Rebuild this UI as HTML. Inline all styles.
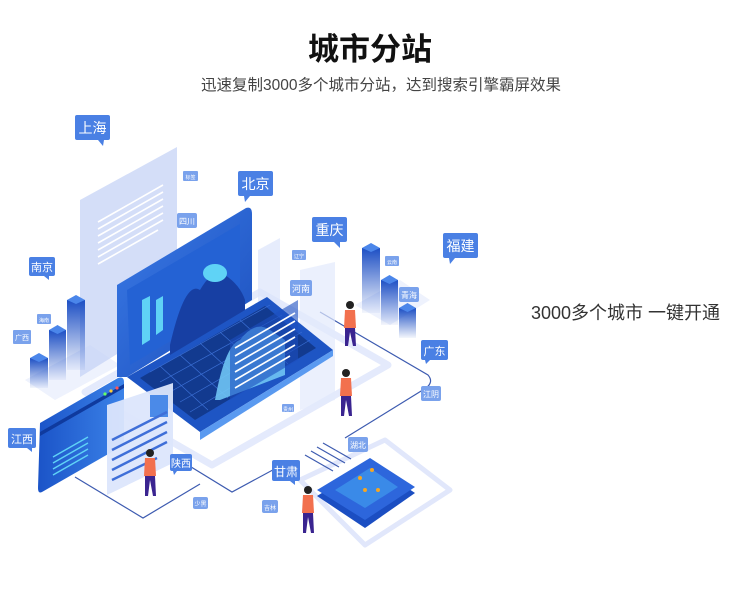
<!DOCTYPE html>
<html><head><meta charset="utf-8"><style>
html,body{margin:0;padding:0;background:#fff;}
body{width:750px;height:598px;position:relative;overflow:hidden;font-family:"Liberation Sans","Noto Sans CJK SC",sans-serif;}
.t{position:absolute;left:0;width:750px;text-align:center;}
</style></head><body>
<div class="t" style="top:24px;font-size:31px;font-weight:bold;color:#111;left:-5px;">城市分站</div>
<div class="t" style="top:73px;font-size:15.5px;color:#444;left:6px;">迅速复制3000多个城市分站，达到搜索引擎霸屏效果</div>
<div style="position:absolute;left:531px;top:299px;font-size:18px;color:#333;white-space:nowrap;">3000多个城市 一键开通</div>
<svg width="750" height="598" style="position:absolute;left:0;top:0" xmlns="http://www.w3.org/2000/svg" font-family="Liberation Sans,Noto Sans CJK SC,sans-serif">
<defs>
<linearGradient id="bar" x1="0" y1="0" x2="0" y2="1"><stop offset="0" stop-color="#1d4fc4"/><stop offset="1" stop-color="#1d4fc4" stop-opacity="0.05"/></linearGradient>
<linearGradient id="scr" x1="0" y1="0" x2="1" y2="1"><stop offset="0" stop-color="#3a7ae6"/><stop offset="1" stop-color="#1c4fbd"/></linearGradient>
<linearGradient id="side" x1="0" y1="0" x2="1" y2="0"><stop offset="0" stop-color="#1b54c8"/><stop offset="1" stop-color="#3b82e8"/></linearGradient>
</defs>
<path d="M85,392 L260,292 L388,365 L212,465 Z" fill="#fff" stroke="#e4eafc" stroke-width="7" stroke-linejoin="round"/>
<path d="M300,480 L385,440 L450,490 L365,545 Z" fill="#fff" stroke="#e1e7fb" stroke-width="5" stroke-linejoin="round"/>
<path d="M25,380 L90,345 L120,365 L55,400 Z" fill="#eef2fd"/>
<path d="M355,305 L400,280 L430,300 L390,325 Z" fill="#eef2fd"/>
<g fill="none" stroke="#3d5bb0" stroke-width="1.2">
<path d="M320,312 L428,375 Q434,382 426,388 L345,438"/>
<path d="M75,477 L143,518 L200,484"/>
<path d="M183,462 L232,492 L282,465"/>
<path d="M305,455 l28,16 M311,451 l28,16 M317,447 l28,16 M323,443 l28,16"/>
</g>
<path d="M80,200 L177,147 L177,317 L80,377 Z" fill="#c6d3f6" opacity="0.75"/>
<g stroke="#fff" stroke-width="1.6">
<path d="M98,222 l65,-37 M98,229 l65,-37 M98,236 l65,-37 M98,243 l65,-37 M98,250 l65,-37 M98,257 l65,-37 M98,264 l60,-34"/>
</g>
<path d="M258,250 L280,238 L280,340 L258,352 Z" fill="#dbe4fb" opacity="0.7"/>
<path d="M300,270 L335,262 L335,400 L300,410 Z" fill="#e3eafc" opacity="0.7"/>
<path d="M127,377 L267,297 L333,350 L200,432 Z" fill="#1e55c4"/>
<path d="M200,432 L333,350 L333,356 L200,440 Z" fill="#5a9af0"/>
<path d="M140,378 L265,306 L316,348 L195,420 Z" fill="#123a8f"/>
<g stroke="#3b6fd4" stroke-width="0.7">
<path d="M150,372 L270,305 M160,382 L282,315 M170,392 L292,323 M180,402 L302,332 M190,412 L310,340"/>
<path d="M160,366 L208,410 M180,355 L228,398 M200,343 L248,387 M220,332 L268,375 M240,320 L288,364"/>
</g>
<path d="M117,285 L246,208 Q252,206 252,214 L252,300 L127,377 L117,377 Z" fill="url(#scr)"/>
<path d="M127,290 L240,224 L240,300 L130,365 Z" fill="#2462d4"/>
<path d="M142,300 L150,296 L150,340 L142,345 Z" fill="#5fd3f6"/>
<path d="M156,300 L163,296 L163,330 L156,335 Z" fill="#5fd3f6"/>
<path d="M170,345 Q185,280 200,290 Q215,265 225,275 Q240,285 245,300 L245,310 L170,355 Z" fill="#173fa3"/>
<ellipse cx="215" cy="273" rx="12" ry="9" fill="#5fd3f6"/>
<path d="M215,400 Q225,345 240,340 Q255,320 270,330 L285,340 L285,375 L220,400 Z" fill="#6fc4f4" opacity="0.9"/>
<path d="M230,340 L298,300 L298,360 L230,400 Z" fill="#1c4fc0" opacity="0.6"/>
<g stroke="#fff" stroke-width="1.6"><path d="M235,348 l60,-35 M235,356 l60,-35 M235,364 l60,-35 M235,372 l60,-35 M235,380 l60,-35 M235,388 l55,-32"/></g>
<path d="M40,423 L118,378 Q124,376 124,382 L124,445 L42,492 Q38,494 38,488 Z" fill="url(#side)"/>
<path d="M40,432 L124,384 L124,388 L40,436 Z" fill="#0f3a9e"/>
<circle cx="105" cy="394" r="1.6" fill="#6f6"/><circle cx="111" cy="391" r="1.6" fill="#fc3"/><circle cx="117" cy="388" r="1.6" fill="#f55"/>
<g stroke="#5fd3f6" stroke-width="1.4"><path d="M53,457 l35,-20 M53,463 l35,-20 M53,469 l35,-20 M53,475 l35,-20"/></g>
<path d="M107,405 L173,383 L173,463 L107,495 Z" fill="#dce6fc" opacity="0.95"/>
<rect x="150" y="395" width="18" height="22" fill="#4b8ae8"/>
<g stroke="#3f6fd8" stroke-width="2.4"><path d="M112,440 l55,-28 M112,450 l55,-28 M112,460 l55,-28 M112,470 l55,-28 M112,480 l45,-22"/></g>
<g>
<rect x="30" y="358" width="18" height="30" fill="url(#bar)"/><path d="M30,358 l9,-5 l9,5 l-9,4z" fill="#4b86ea"/>
<rect x="49" y="330" width="17" height="50" fill="url(#bar)"/><path d="M49,330 l8.5,-5 l8.5,5 l-8.5,4z" fill="#4b86ea"/>
<rect x="67" y="300" width="18" height="70" fill="url(#bar)"/><path d="M67,300 l9,-5 l9,5 l-9,4z" fill="#4b86ea"/>
<rect x="362" y="248" width="18" height="65" fill="url(#bar)"/><path d="M362,248 l9,-5 l9,5 l-9,4z" fill="#4b86ea"/>
<rect x="381" y="280" width="17" height="45" fill="url(#bar)"/><path d="M381,280 l8.5,-5 l8.5,5 l-8.5,4z" fill="#4b86ea"/>
<rect x="399" y="308" width="17" height="30" fill="url(#bar)"/><path d="M399,308 l8.5,-5 l8.5,5 l-8.5,4z" fill="#4b86ea"/>
</g>
<path d="M317,496 L370,463 L415,493 L365,528 Z" fill="#1b4ec2"/>
<path d="M317,490 L370,458 L415,487 L365,520 Z" fill="#2d66dc"/>
<path d="M335,490 L370,468 L398,487 L365,508 Z" fill="#3a8ae8"/>
<g fill="#f5a623"><circle cx="360" cy="478" r="2"/><circle cx="372" cy="470" r="2"/><circle cx="378" cy="490" r="2"/><circle cx="365" cy="490" r="2"/></g>
<g>
<g transform="translate(350,310)"><circle cx="0" cy="-5" r="4" fill="#222"/><path d="M-5,0 h10 l1,18 h-12z" fill="#f2704e"/><path d="M-5,18 h10 l1,18 h-3 l-3,-14 l-2,14 h-3z" fill="#3a2490"/></g>
<g transform="translate(346,378)"><circle cx="0" cy="-5" r="4" fill="#222"/><path d="M-5,0 h10 l1,18 h-12z" fill="#f2704e"/><path d="M-5,18 h10 l1,20 h-3 l-3,-16 l-2,16 h-3z" fill="#3a2490"/></g>
<g transform="translate(150,458)"><circle cx="0" cy="-5" r="4" fill="#222"/><path d="M-5,0 h10 l1,18 h-12z" fill="#f2704e"/><path d="M-5,18 h10 l1,20 h-3 l-3,-16 l-2,16 h-3z" fill="#3a2490"/></g>
<g transform="translate(308,495)"><circle cx="0" cy="-5" r="4" fill="#222"/><path d="M-5,0 h10 l1,18 h-12z" fill="#f2704e"/><path d="M-5,18 h10 l1,20 h-3 l-3,-16 l-2,16 h-3z" fill="#3a2490"/></g>
</g>
<g fill="#4a80e4">
<rect x="75" y="115" width="35" height="25" rx="2"/><path d="M98,140 l6,0 l-1,6z"/>
<rect x="238" y="171" width="35" height="25" rx="2"/><path d="M244,196 l6,0 l-5,6z"/>
<rect x="312" y="217" width="35" height="25" rx="2"/><path d="M334,242 l6,0 l0,6z"/>
<rect x="443" y="233" width="35" height="25" rx="2"/><path d="M449,258 l6,0 l-5,6z"/>
<rect x="29" y="257" width="26" height="19" rx="2"/><path d="M44,276 l5,0 l0,4z"/>
<rect x="421" y="340" width="27" height="20" rx="2"/><path d="M425,360 l5,0 l-4,4z"/>
<rect x="8" y="428" width="28" height="20" rx="2"/><path d="M27,448 l5,0 l0,4z"/>
<rect x="170" y="454" width="22" height="17" rx="2"/><path d="M173,471 l4,0 l-3,4z"/>
<rect x="272" y="460" width="28" height="21" rx="2"/><path d="M290,481 l5,0 l0,4z"/>
</g>
<g fill="#7aa2ec">
<rect x="348" y="437" width="20" height="15" rx="2"/>
<rect x="177" y="213" width="20" height="15" rx="2"/>
<rect x="290" y="280" width="22" height="16" rx="2"/>
<rect x="399" y="287" width="20" height="15" rx="2"/>
<rect x="421" y="386" width="20" height="15" rx="2"/>
<rect x="262" y="500" width="16" height="13" rx="2"/>
<rect x="193" y="497" width="15" height="12" rx="2"/>
<rect x="37" y="314" width="14" height="10" rx="1"/>
<rect x="13" y="330" width="18" height="14" rx="1"/>
<rect x="292" y="250" width="14" height="10" rx="1"/>
<rect x="385" y="256" width="14" height="10" rx="1"/>
<rect x="183" y="171" width="15" height="10" rx="1"/>
<rect x="282" y="404" width="12" height="8" rx="1"/>
</g>
<g fill="#fff" text-anchor="middle" font-family="Liberation Sans,Noto Sans CJK SC,sans-serif">
<text x="92.5" y="133" font-size="14">上海</text>
<text x="255.5" y="189" font-size="14">北京</text>
<text x="329.5" y="235" font-size="14">重庆</text>
<text x="460.5" y="251" font-size="14">福建</text>
<text x="42" y="271" font-size="11">南京</text>
<text x="434.5" y="355" font-size="11">广东</text>
<text x="22" y="443" font-size="11">江西</text>
<text x="181" y="467" font-size="10">陕西</text>
<text x="286" y="476" font-size="12">甘肃</text>
<text x="358" y="448" font-size="8">湖北</text>
<text x="187" y="224" font-size="8">四川</text>
<text x="301" y="292" font-size="9">河南</text>
<text x="409" y="298" font-size="8">青海</text>
<text x="431" y="397" font-size="8">江阴</text>
<text x="270" y="510" font-size="6">吉林</text>
<text x="200.5" y="506" font-size="6">少黑</text>
<text x="44" y="322" font-size="5">海南</text>
<text x="22" y="340" font-size="7">广西</text>
<text x="299" y="258" font-size="5">辽宁</text>
<text x="392" y="264" font-size="5">云南</text>
<text x="190.5" y="179" font-size="5">标签</text>
<text x="288" y="411" font-size="5">贵州</text>
</g>
</svg>
</body></html>
